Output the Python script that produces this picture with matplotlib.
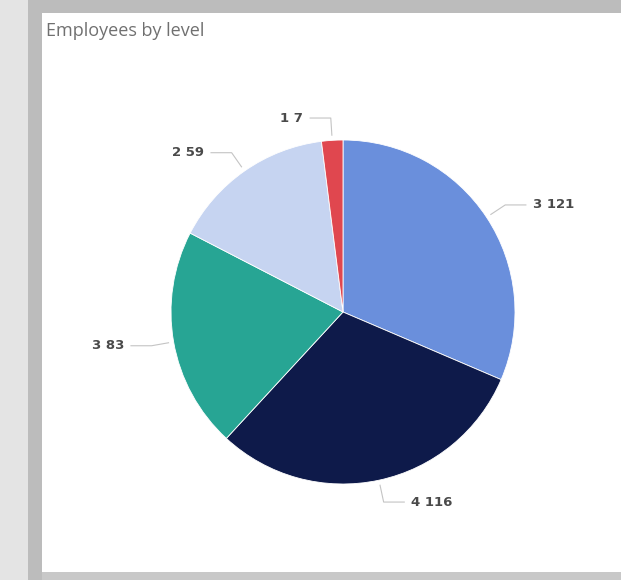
import numpy as np
import matplotlib.pyplot as plt
from matplotlib.patches import Rectangle

# slice shares and the label texts shown next to them
levels = ['Level A', 'Level B', 'Level C', 'Level D', 'Level E']
shares = [31.4, 30.4, 20.7, 15.4, 2.0]
value_labels = ['3 121', '4 116', '3 83', '2 59', '1 7']
colors = ['#6a8fdc', '#0e1a4a', '#27a594', '#c6d4f1', '#e0474f']

fig = plt.figure(figsize=(6.21, 5.80), dpi=100)
fig.patch.set_facecolor('white')

# report frame around the card
fig.patches.append(Rectangle((0, 0), 28 / 621, 1, transform=fig.transFigure,
                             facecolor='#e4e4e4', edgecolor='none'))
fig.patches.append(Rectangle((28 / 621, 0), 14 / 621, 1, transform=fig.transFigure,
                             facecolor='#bcbcbc', edgecolor='none'))
fig.patches.append(Rectangle((28 / 621, 1 - 13 / 580), 1, 13 / 580, transform=fig.transFigure,
                             facecolor='#bcbcbc', edgecolor='none'))
fig.patches.append(Rectangle((42 / 621, 0), 1, 8 / 580, transform=fig.transFigure,
                             facecolor='#c8c8c8', edgecolor='none'))

fig.text(46 / 621, 1 - 31 / 580, 'Employees by level', fontsize=13,
         color='#707070', va='center', ha='left', family='Open Sans')

cx, cy, r = 343, 312, 172
ax = fig.add_axes([(cx - r) / 621, (580 - cy - r) / 580, 2 * r / 621, 2 * r / 580])
wedges, _ = ax.pie(shares, colors=colors, startangle=90, counterclock=False,
                   wedgeprops=dict(linewidth=0.6, edgecolor='white'))
ax.set_xlim(-1, 1)
ax.set_ylim(-1, 1)
ax.set_aspect('auto')
ax.axis('off')

for w, lab in zip(wedges, value_labels):
    ang = np.deg2rad((w.theta1 + w.theta2) / 2)
    x0, y0 = 1.03 * np.cos(ang), 1.03 * np.sin(ang)
    x1, y1 = 1.13 * np.cos(ang), 1.13 * np.sin(ang)
    side = 1 if np.cos(ang) >= 0 else -1
    x2 = x1 + side * 0.12
    ax.plot([x0, x1, x2], [y0, y1, y1], color='#c4c4c4', lw=0.8, clip_on=False)
    ax.text(x2 + side * 0.04, y1, lab, fontsize=9.5, color='#4a4a4a', fontweight='semibold',
            ha='left' if side > 0 else 'right', va='center', clip_on=False)

fig.savefig('out.png', dpi=100)
